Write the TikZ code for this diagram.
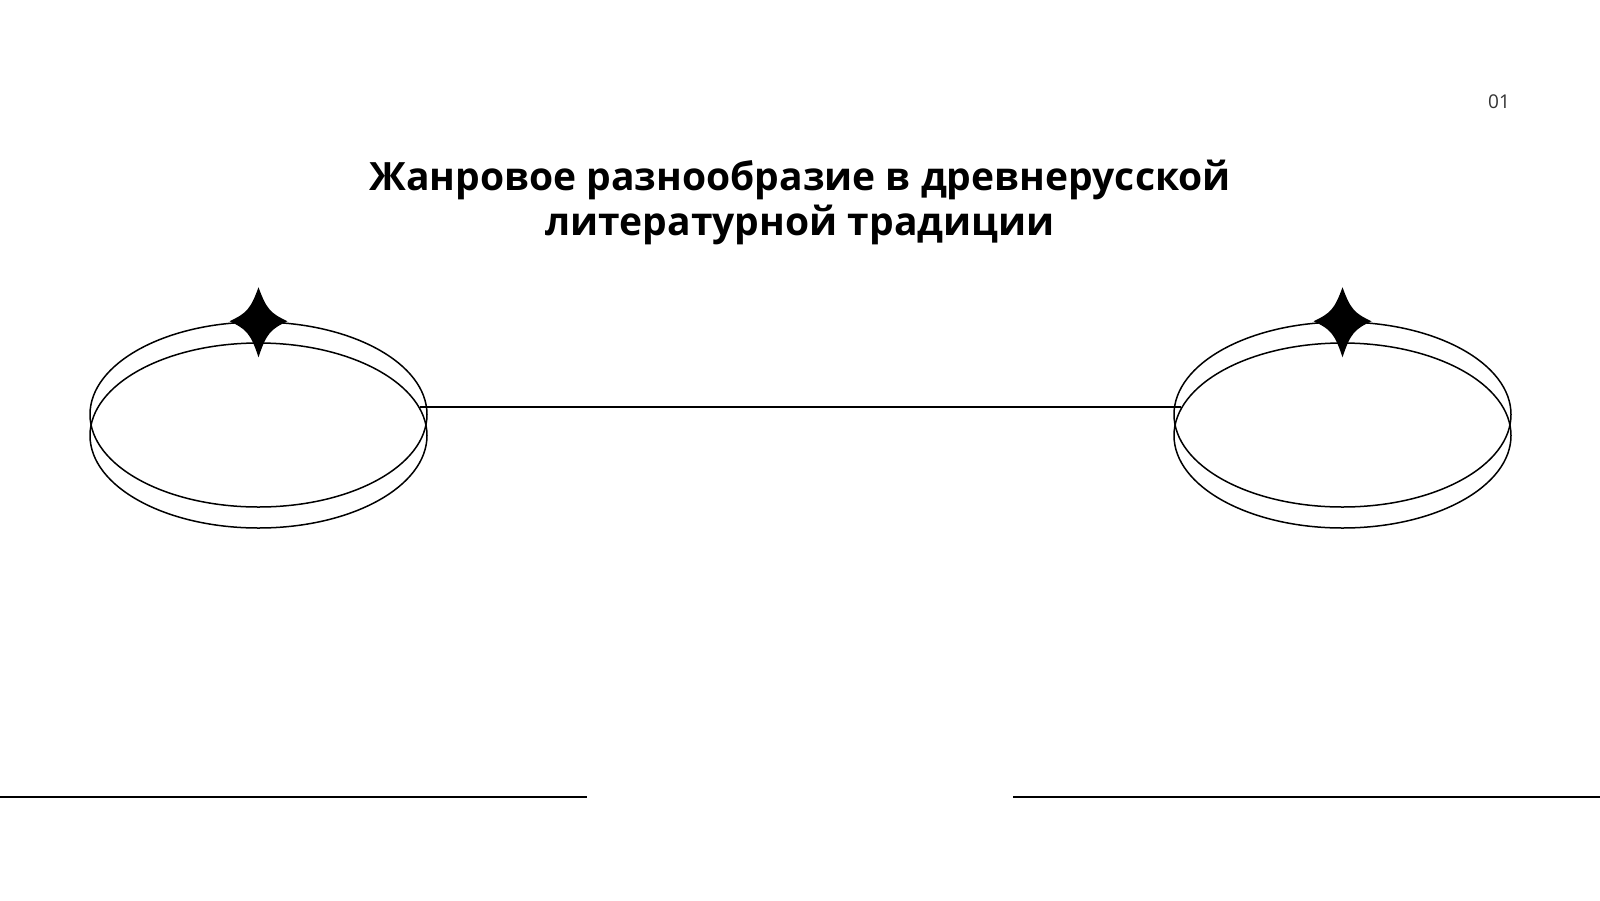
\documentclass[tikz,border=0pt]{standalone}
\usepackage{fontspec}
\setmainfont{Open Sans}
\usetikzlibrary{shapes.geometric}

\tikzset{
  ring/.style={ellipse, draw, line width=1.5pt, inner sep=0pt,
    minimum width=337pt, minimum height=185pt},
  rule/.style={line width=2pt},
  sparkle/.pic={
    \fill (0,-34) .. controls (8,-12) and (12,-8) .. (29,0)
      .. controls (12,8) and (8,12) .. (0,36)
      .. controls (-8,12) and (-12,8) .. (-29,0)
      .. controls (-12,-8) and (-8,-12) .. cycle;
  }
}

\begin{document}
\begin{tikzpicture}[x=1pt,y=-1pt]
\fill[white] (0,0) rectangle (1600,900);
\useasboundingbox (0,0) rectangle (1600,900);

\node[font=\fontsize{39}{45}\selectfont\bfseries, align=center] (title) at (800,202)
  {Жанровое разнообразие в древнерусской\\литературной традиции};
\node[font=\fontsize{19}{20}\selectfont, text=black!80] (pagenum) at (1499,102) {01};

% left ring
\node[ring] (ltop) at (258.5,414.5) {};
\node[ring] (lbot) at (258.5,435.5) {};
\pic at (ltop.north) {sparkle};

% right ring
\node[ring] (rtop) at (1342.5,414.5) {};
\node[ring] (rbot) at (1342.5,435.5) {};
\pic at (rtop.north) {sparkle};

\draw[line width=1.5pt] (lbot.10) -- (rbot.170 |- lbot.10);

% bottom rules
\coordinate (bl0) at (0,797);
\coordinate (bl1) at (587,797);
\coordinate (br0) at (1013,797);
\coordinate (br1) at (1600,797);
\draw[rule] (bl0) -- (bl1);
\draw[rule] (br0) -- (br1);
\end{tikzpicture}
\end{document}
